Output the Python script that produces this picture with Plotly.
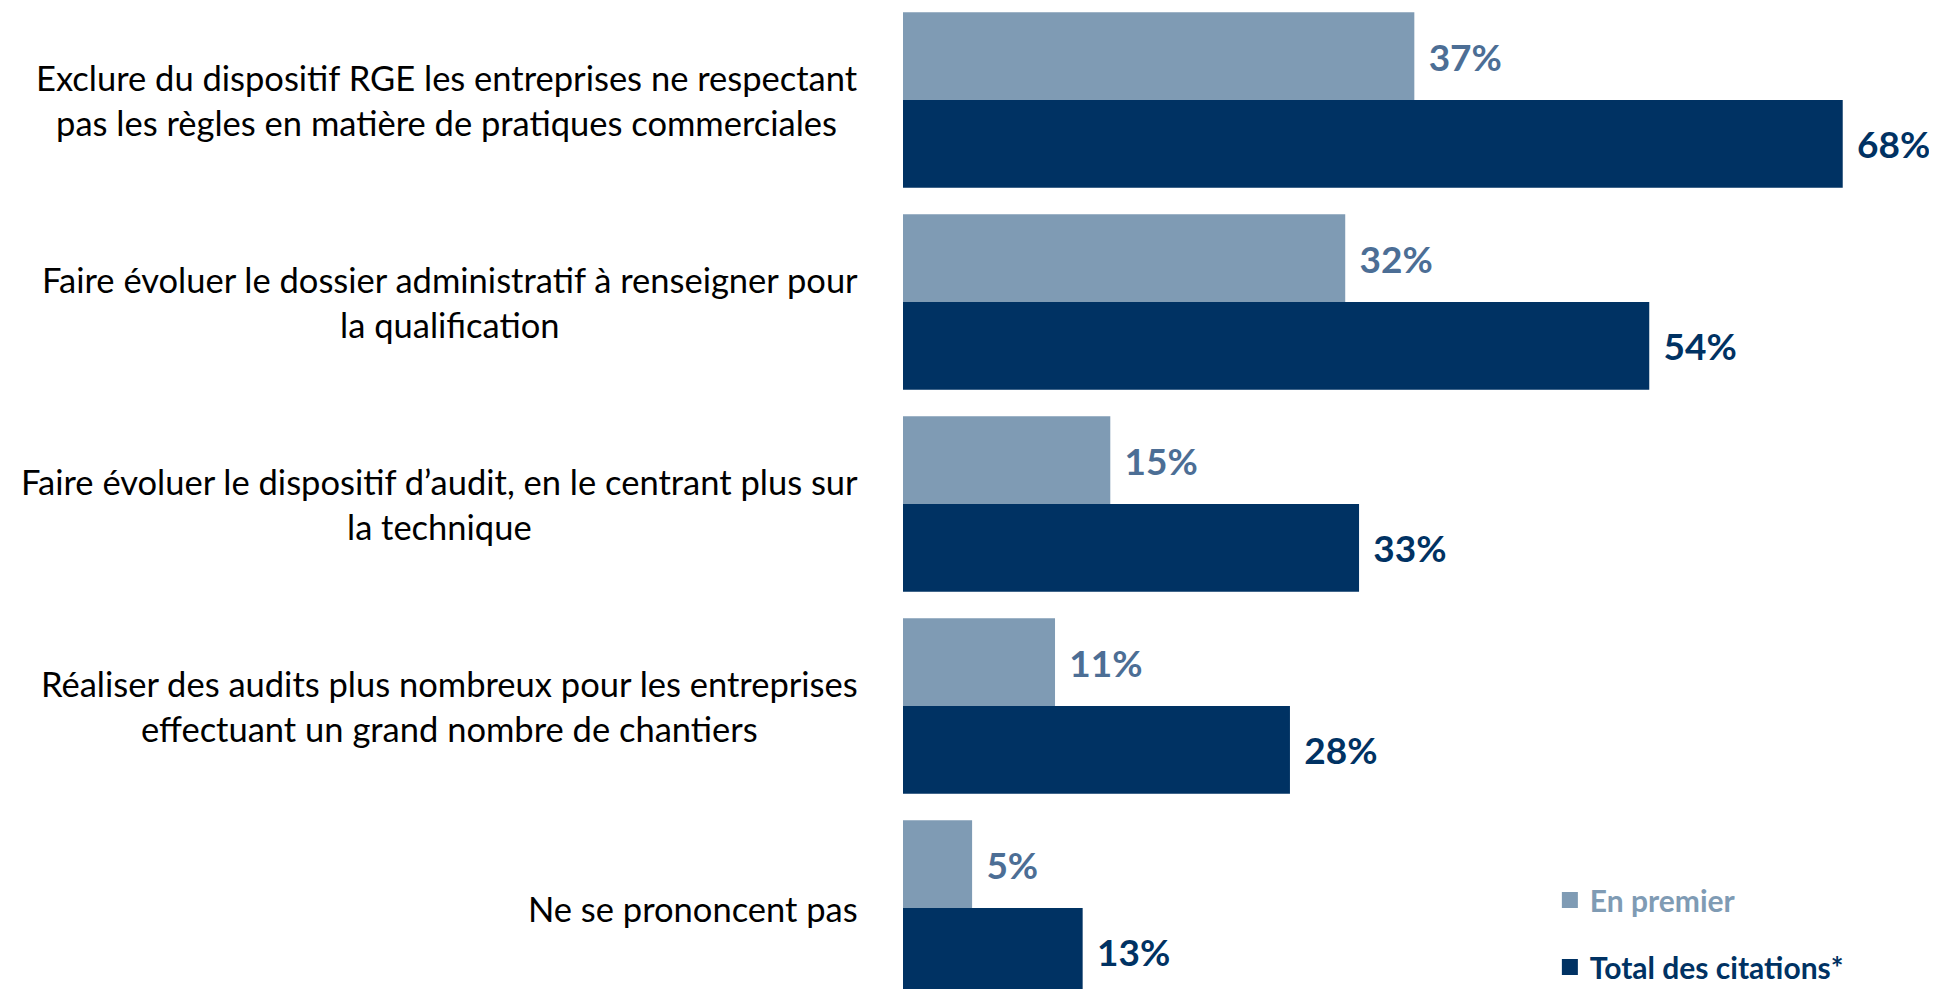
import plotly.graph_objects as go

categories = [
    "Exclure du dispositif RGE les entreprises ne respectant<br>pas les règles en matière de pratiques commerciales",
    "Faire évoluer le dossier administratif à renseigner pour<br>la qualification",
    "Faire évoluer le dispositif d’audit, en le centrant plus sur<br>la technique",
    "Réaliser des audits plus nombreux pour les entreprises<br>effectuant un grand nombre de chantiers",
    "Ne se prononcent pas",
]
en_premier = [37, 32, 15, 11, 5]
total_citations = [68, 54, 33, 28, 13]
series_names = ["En premier", "Total des citations*"]

LIGHT = "#7F9BB4"
LIGHT_TXT = "#4C6E95"
DARK = "#003263"
FONT = "Lato"

fig = go.Figure()
for vals, name, col, tcol in [(en_premier, series_names[0], LIGHT, LIGHT_TXT),
                              (total_citations, series_names[1], DARK, DARK)]:
    fig.add_trace(go.Bar(
        y=categories, x=vals, orientation="h", name=name, showlegend=False,
        marker=dict(color=col, line=dict(width=0)),
        texttemplate="&nbsp;\u200a%{x}%", textposition="outside",
        outsidetextfont=dict(family=FONT, size=37, color=tcol, weight="bold"),
        constraintext="none", cliponaxis=False,
    ))

# legend entries (square markers)
for i, (name, col) in enumerate([(series_names[0], LIGHT), (series_names[1], DARK)]):
    fig.add_trace(go.Scatter(
        x=[None], y=[None], mode="markers",
        marker=dict(symbol="square", size=16, color=col),
        name=f"<span style='color:{col}'>{name}</span>",
        legendgroup=f"g{i}", showlegend=True,
    ))

for cat in categories:
    fig.add_annotation(
        xref="paper", yref="y", x=-0.0413, y=cat, text=cat,
        showarrow=False, xanchor="right", yanchor="middle", align="center",
        font=dict(family=FONT, size=34.5, color="#000000"),
    )

fig.update_layout(
    width=1937, height=989,
    margin=dict(l=895, r=0, t=0, b=0),
    paper_bgcolor="white", plot_bgcolor="white",
    barmode="group", bargap=0.132, bargroupgap=0,
    font=dict(family=FONT),
    xaxis=dict(range=[0, 75.4], visible=False, fixedrange=True),
    yaxis=dict(range=[4.4406, -0.4554], showticklabels=False, showgrid=False,
               zeroline=False, showline=False, ticks="", fixedrange=True),
    legend=dict(x=0.6208, y=0.0642, xanchor="left", yanchor="middle",
                bgcolor="rgba(0,0,0,0)", tracegroupgap=25,
                font=dict(family=FONT, size=30, weight="bold")),
    showlegend=True,
)

fig.write_html("out.html")
